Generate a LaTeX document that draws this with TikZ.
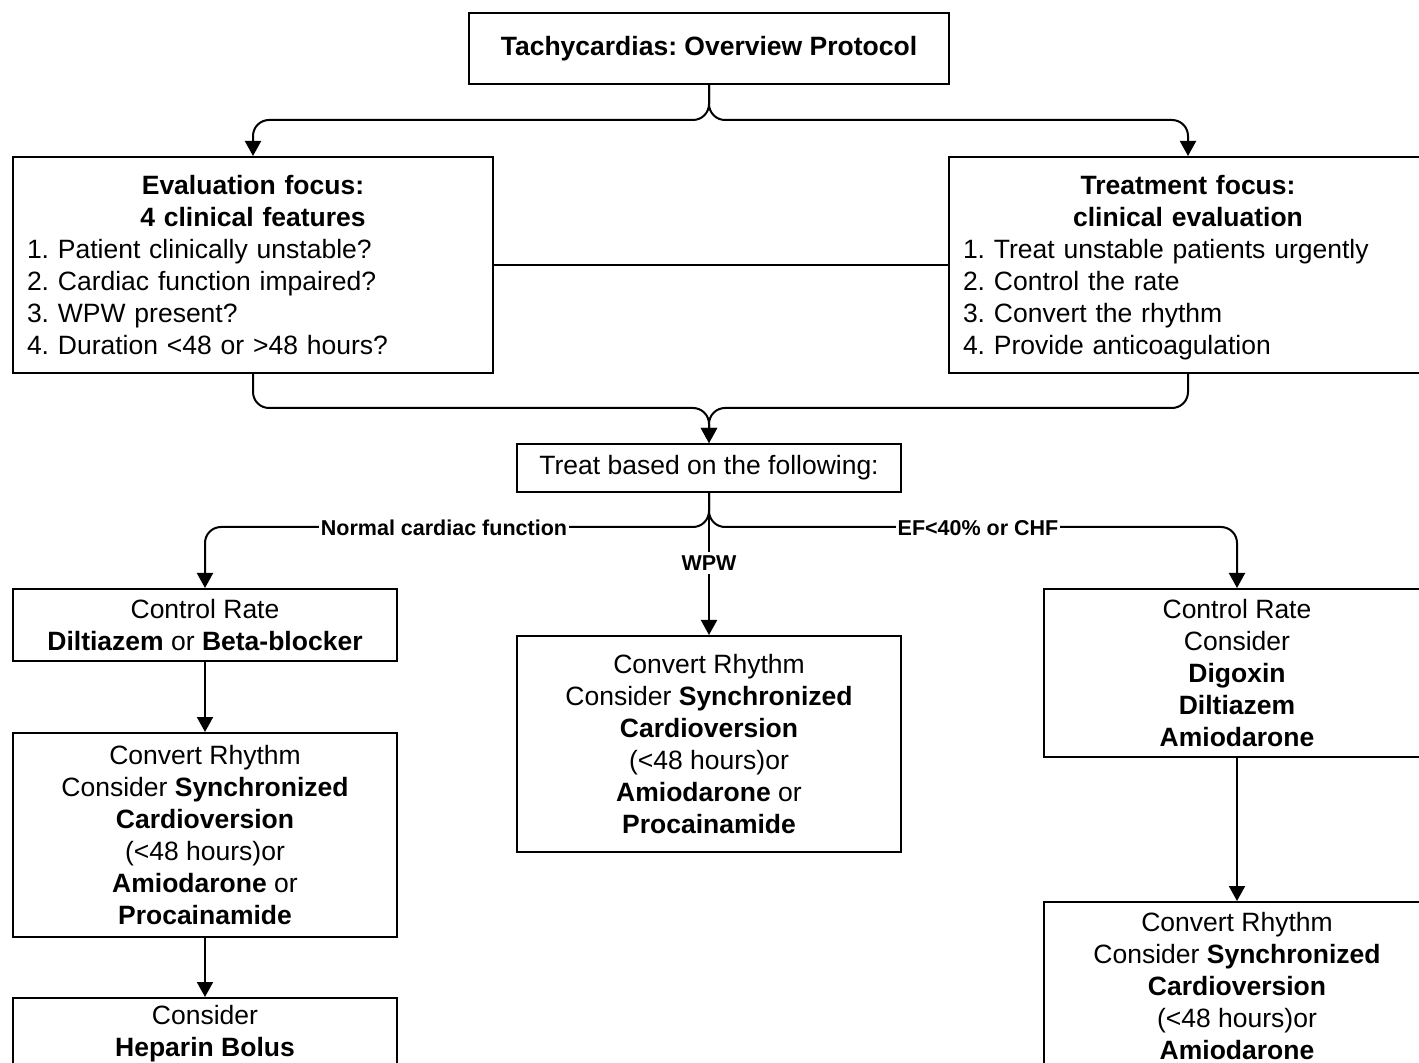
\documentclass[tikz,border=0pt]{standalone}
\usepackage{fontspec}
\setmainfont{Liberation Sans}
\usetikzlibrary{arrows.meta}
\frenchspacing

\begin{document}
\begin{tikzpicture}[
  x=0.5pt, y=-0.5pt,
  font=\fontsize{13.25}{16}\selectfont,
  box/.style={draw, line width=1pt, align=center, inner sep=2pt},
  listbox/.style={draw, line width=1pt, align=left, inner xsep=7pt, inner ysep=2pt},
  conn/.style={line width=1pt, rounded corners=8pt},
  arr/.style={conn, -{Triangle[length=7.5pt, width=8pt]}},
  lbl/.style={fill=white, inner xsep=1pt, inner ysep=2pt,
              font=\bfseries\fontsize{10.75}{12}\selectfont}
]
\useasboundingbox (0,0) rectangle (1419,1063);
\fill[white] (0,0) rectangle (1419,1063);
\clip (0,0) rectangle (1419,1063);

% header and the two focus panels
\node[box, minimum width=240pt, minimum height=35.5pt, font=\bfseries\fontsize{13.25}{16}\selectfont]
  (title) at (709,48.5) {Tachycardias: Overview Protocol};

\node[listbox, text width=226pt, minimum height=108pt] (eval) at (253,265)
  {{\centering\bfseries Evaluation focus:\\4 clinical features\par}
   1. Patient clinically unstable?\\
   2. Cardiac function impaired?\\
   3. WPW present?\\
   4. Duration <48 or >48 hours?};

\node[listbox, text width=225pt, minimum height=108pt] (treatm) at (1188,265)
  {{\centering\bfseries Treatment focus:\\clinical evaluation\par}
   1. Treat unstable patients urgently\\
   2. Control the rate\\
   3. Convert the rhythm\\
   4. Provide \smash{anticoagulation}};

\node[box, minimum width=192pt, minimum height=24pt] (treat) at (709,468)
  {Treat based on the following:};

% left branch: normal cardiac function
\node[box, minimum width=192pt, minimum height=36pt] (cr1) at (205,625)
  {Control Rate\\\textbf{Diltiazem} or \textbf{Beta-blocker}};
\node[box, minimum width=192pt, minimum height=102pt] (conv1) at (205,835)
  {Convert Rhythm\\Consider \textbf{Synchronized}\\\textbf{Cardioversion}\\(<48 hours)or\\\textbf{Amiodarone} or\\\textbf{Procainamide}};
\node[box, minimum width=192pt, minimum height=36pt, anchor=north] (hep) at (205,997)
  {Consider\\\textbf{Heparin Bolus}};

% middle branch: WPW
\node[box, minimum width=192pt, minimum height=108pt] (wpwbox) at (709,744)
  {Convert Rhythm\\Consider \textbf{Synchronized}\\\textbf{Cardioversion}\\(<48 hours)or\\\textbf{Amiodarone} or\\\textbf{Procainamide}};

% right branch: impaired function
\node[box, minimum width=193pt, minimum height=84pt] (cr2) at (1237,673)
  {Control Rate\\Consider\\\textbf{Digoxin}\\\textbf{Diltiazem}\\\textbf{Amiodarone}};
\node[box, minimum width=193pt, minimum height=84pt, anchor=north] (conv2) at (1237,901)
  {Convert Rhythm\\Consider \textbf{Synchronized}\\\textbf{Cardioversion}\\(<48 hours)or\\\textbf{Amiodarone}};

% connectors
\draw[arr] (title.south) |- ([yshift=18pt]eval.north) -- (eval.north);
\draw[arr] (title.south) |- ([yshift=18pt]treatm.north) -- (treatm.north);
\draw[conn] (eval.east) -- (treatm.west);
\draw[arr] (eval.south) |- ([yshift=17.5pt]treat.north) -- (treat.north);
\draw[arr] (treatm.south) |- ([yshift=17.5pt]treat.north) -- (treat.north);

\draw[arr] (treat.south) |- ([yshift=30.5pt]cr1.north) -- (cr1.north);
\draw[arr] (treat.south) |- ([yshift=30.5pt]cr2.north) -- (cr2.north);
\draw[arr] (treat.south) -- (wpwbox.north);

\draw[arr] (cr1.south) -- (conv1.north);
\draw[arr] (conv1.south) -- (hep.north);
\draw[arr] (cr2.south) -- (conv2.north);

% branch labels
\node[lbl] (lnormal) at (444,528) {Normal cardiac function};
\node[lbl] (lef) at (978,528) {EF<40\% or CHF};
\node[lbl] (lwpw) at (709,563) {WPW};
\end{tikzpicture}
\end{document}
